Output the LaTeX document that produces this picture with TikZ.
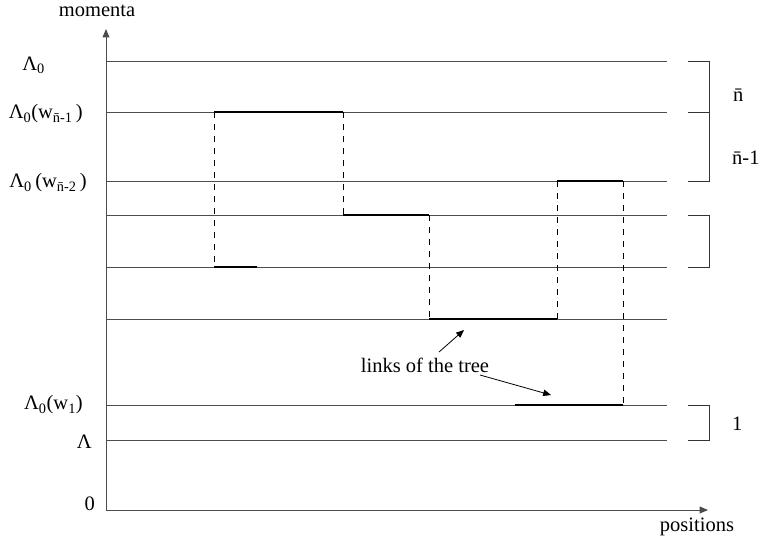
\documentclass[tikz,border=0pt]{standalone}
\usepackage{fontspec}
\setmainfont{Liberation Serif}
\usetikzlibrary{positioning,arrows}

\begin{document}
\begin{tikzpicture}[
    x=1pt, y=-1pt,
    font=\fontsize{20.5}{23}\selectfont,
    level/.style ={
        draw=black!70,
        line width=0.9pt,
    },
    link/.style ={
        line width=2.3pt,
    },
    jump/.style ={
        dash pattern=on 6pt off 6pt,
        line width=1pt,
    },
    brace/.style ={
        draw=black!80,
        line width=0.9pt,
    },
    lbl/.style ={
        inner sep=0pt,
    }
    ]
    \useasboundingbox (0,0) rectangle (759,541);
    % axes
    \coordinate (O) at (106,510);
    \coordinate (ytop) at (106,29);
    \coordinate (xend) at (708,510);
    \draw[level,-triangle 45] (O) -- (ytop);
    \draw[level,-triangle 45] (O) -- (xend);
    \node (mom) at (97,11) {momenta};
    \node (pos) at (697,527) {positions};
    % levels
    \foreach \y/\n in {61/a,112/b,181/c,215/d,267/e,319/f,405/g,440/h}{
        \coordinate (\n-w) at (106,\y);
        \coordinate (\n-e) at (667,\y);
        \coordinate (\n-l) at (688,\y);
        \coordinate (\n-r) at (709,\y);
        \draw[level] (\n-w) -- (\n-e);
    }
    \node[lbl,anchor=east] (la) at (45,65) {Λ\textsubscript{0}};
    \node[lbl,anchor=east] (lb) at (83,114) {Λ\textsubscript{0}(w\textsubscript{\={n}-1}\,)};
    \node[lbl,anchor=east] (lc) at (87,183) {Λ\textsubscript{0}\,(w\textsubscript{\={n}-2}\,)};
    \node[lbl,anchor=east] (lg) at (83,405) {Λ\textsubscript{0}(w\textsubscript{1})};
    \node[lbl,anchor=east] (lh) at (92,442) {Λ};
    \node[lbl,anchor=east] (lo) at (95,504) {0};
    % brackets
    \draw[brace] (a-l) -- (a-r) -- (c-r) -- (c-l);
    \draw[brace] (b-l) -- (b-r);
    \draw[brace] (d-l) -- (d-r) -- (e-r) -- (e-l);
    \draw[brace] (g-l) -- (g-r) -- (h-r) -- (h-l);
    \node[lbl,anchor=west] (nb) at (733,95) {\={n}};
    \node[lbl,anchor=west] (nc) at (732,158) {\={n}-1};
    \node[lbl,anchor=west] (one) at (732,424) {1};
    % tree
    \coordinate (t1) at (214,112);
    \coordinate (t2) at (343,112);
    \coordinate (t3) at (214,267);
    \coordinate (t4) at (257,267);
    \coordinate (t5) at (343,215);
    \coordinate (t6) at (429,215);
    \coordinate (t7) at (429,319);
    \coordinate (t8) at (557,319);
    \coordinate (t9) at (557,181);
    \coordinate (t10) at (623,181);
    \coordinate (t11) at (623,405);
    \coordinate (t12) at (515,405);
    \draw[link] (t1) -- (t2);
    \draw[link] (t3) -- (t4);
    \draw[link] (t5) -- (t6);
    \draw[link] (t7) -- (t8);
    \draw[link] (t9) -- (t10);
    \draw[link] (t12) -- (t11);
    \draw[jump] (t1) -- (t3);
    \draw[jump] (t2) -- (t5);
    \draw[jump] (t6) -- (t7);
    \draw[jump] (t8) -- (t9);
    \draw[jump] (t10) -- (t11);
    % label
    \node (links) at (425,365) {links of the tree};
    \coordinate (p1) at (464,330);
    \coordinate (p2) at (551,395);
    \draw[-triangle 45,line width=0.8pt] (439,352) -- (p1);
    \draw[-triangle 45,line width=0.8pt] (480,375) -- (p2);
\end{tikzpicture}
\end{document}
